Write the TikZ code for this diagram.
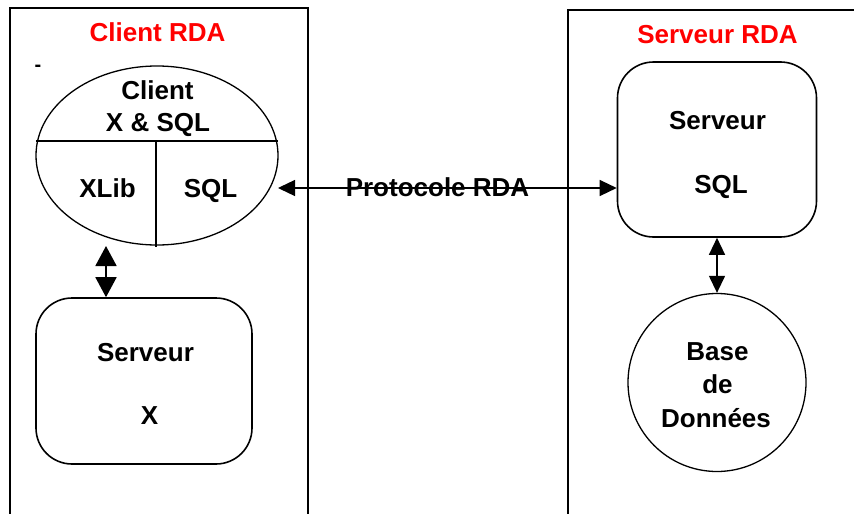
\documentclass[tikz,border=0pt]{standalone}
\usepackage{fontspec}
\setmainfont{Liberation Sans}
\usetikzlibrary{shapes.geometric, arrows.meta}
\definecolor{titlered}{RGB}{255,0,0}
\tikzstyle{zone} = [line width=1.6pt]
\tikzstyle{txt} = [anchor=base, inner sep=0pt, font=\bfseries\fontsize{26}{30}\selectfont]
\tikzstyle{title} = [txt, text=titlered]
\tikzstyle{srv} = [draw, line width=1.6pt, rounded corners=36pt, inner sep=0pt]
\tikzstyle{bigarrow} = [line width=1.8pt, {Triangle[length=20pt,width=21pt]}-{Triangle[length=20pt,width=21pt]}]
\tikzstyle{arrow} = [line width=1.3pt, {Triangle[length=17pt,width=16pt]}-{Triangle[length=17pt,width=16pt]}]

\begin{document}
\begin{tikzpicture}[x=1pt, y=-1pt]
        \useasboundingbox (0,0) rectangle (854,514);
        \clip (0,0) rectangle (854,514);
        % the two zones
        \draw [zone] (10,8) rectangle (308,540);
        \draw [zone] (568,10) rectangle (880,540);
        \node (tclient) [title] at (157.5,41.5) {Client RDA};
        \node (tserveur) [title] at (717.5,43) {Serveur RDA};
        \node (tiret) [txt, font=\bfseries\fontsize{20}{22}\selectfont] at (38,71.5) {-};
        % client side
        \node (client) [draw, ellipse, line width=1.3pt,
            minimum width=242pt,
            minimum height=179pt, inner sep=0pt] at (157,155.5) {};
        \draw [line width=1.3pt] (36,141) -- (278,141);
        \draw [line width=1.3pt] (156,141) -- (156,247);
        \node (cl1) [txt] at (157.5,99) {Client};
        \node (cl2) [txt] at (158,131) {X \& SQL};
        \node (xlib) [txt] at (107.5,197) {XLib};
        \node (sqlc) [txt] at (210.5,197) {SQL};
        \node (srvx) [srv,
            minimum width=216pt,
            minimum height=166pt] at (144,381) {};
        \node (srvx1) [txt] at (145.5,361) {Serveur};
        \node (srvx2) [txt] at (149.5,424) {X};
        \coordinate (cx) at (106,246);
        \draw [bigarrow] (cx) -- (cx |- srvx.north);
        % server side
        \node (srvsql) [srv,
            minimum width=199pt,
            minimum height=175pt] at (717,149.5) {};
        \node (srvsql1) [txt] at (717.5,129) {Serveur};
        \node (srvsql2) [txt] at (721,193) {SQL};
        \node (base) [draw, circle, line width=1.3pt,
            minimum size=178pt, inner sep=0pt] at (717,382.5) {};
        \node (base1) [txt] at (717.5,360) {Base};
        \node (base2) [txt] at (717.5,393) {de};
        \node (base3) [txt] at (716,427) {Données};
        \draw [arrow] (srvsql.south) -- (base.north);
        % protocol
        \coordinate (pl) at (278,188);
        \draw [arrow] (pl) -- (pl -| srvsql.west);
        \node (proto) [txt] at (437.5,196) {Protocole RDA};
    \end{tikzpicture}
\end{document}
